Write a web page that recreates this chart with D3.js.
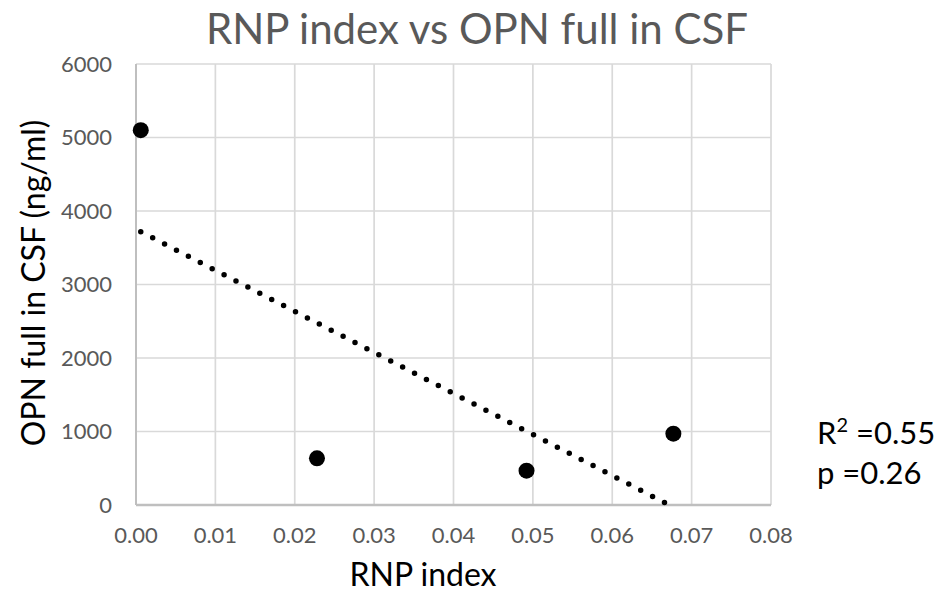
<!DOCTYPE html>
<html>
<head>
<meta charset="utf-8">
<script src="https://cdn.jsdelivr.net/npm/d3@7"></script>
<style>
  html, body { margin: 0; padding: 0; background: #fff; }
  svg { display: block; }
  text { font-family: Lato, "Open Sans", sans-serif; }
</style>
</head>
<body>
<svg id="chart" width="944" height="592"></svg>
<script>
// ---- Data ----
const rnpIndex = [0.0006, 0.0228, 0.0492, 0.0677];
const opnFull  = [5100, 635, 467, 970];
const xTicks = [0, 0.01, 0.02, 0.03, 0.04, 0.05, 0.06, 0.07, 0.08];
const yTicks = [0, 1000, 2000, 3000, 4000, 5000, 6000];
const titleText = "RNP index vs OPN full in CSF";
const xTitle = "RNP index";
const yTitle = "OPN full in CSF (ng/ml)";
const statLines = ["R", "2", " =0.55", "p =0.26"];

// ---- Layout ----
const svg = d3.select("#chart");
const pLeft = 136, pRight = 771, pTop = 64, pBottom = 505;
const x = d3.scaleLinear().domain([0, 0.08]).range([pLeft, pRight]);
const y = d3.scaleLinear().domain([0, 6000]).range([pBottom, pTop]);

// Gridlines
svg.append("g").selectAll("line").data(yTicks.slice(1)).join("line")
  .attr("x1", pLeft).attr("x2", pRight)
  .attr("y1", d => y(d)).attr("y2", d => y(d))
  .attr("stroke", "#d9d9d9").attr("stroke-width", 1.7);
svg.append("g").selectAll("line").data(xTicks.slice(1)).join("line")
  .attr("x1", d => x(d)).attr("x2", d => x(d))
  .attr("y1", pTop).attr("y2", pBottom)
  .attr("stroke", "#d9d9d9").attr("stroke-width", 1.7);

// Axis lines
svg.append("line").attr("x1", pLeft).attr("x2", pLeft).attr("y1", pTop).attr("y2", pBottom)
  .attr("stroke", "#bfbfbf").attr("stroke-width", 2);
svg.append("line").attr("x1", pLeft).attr("x2", pRight).attr("y1", pBottom).attr("y2", pBottom)
  .attr("stroke", "#bfbfbf").attr("stroke-width", 2.5);

// Tick labels
svg.append("g").selectAll("text").data(yTicks).join("text")
  .attr("x", pLeft - 24).attr("y", d => y(d)).attr("dy", "0.35em")
  .attr("text-anchor", "end").attr("font-size", 22).attr("fill", "#595959")
  .text(d => d);
svg.append("g").selectAll("text").data(xTicks).join("text")
  .attr("x", d => x(d)).attr("y", 543)
  .attr("text-anchor", "middle").attr("font-size", 22).attr("fill", "#595959")
  .text(d => d3.format(".2f")(d));

// Trendline (least squares)
const mx = d3.mean(rnpIndex), my = d3.mean(opnFull);
let sxy = 0, sxx = 0;
rnpIndex.forEach((v, i) => { sxy += (v - mx) * (opnFull[i] - my); sxx += (v - mx) ** 2; });
const slope = sxy / sxx, icpt = my - slope * mx;
const x0 = d3.min(rnpIndex);
const xEnd = -icpt / slope;
svg.append("line")
  .attr("x1", x(x0)).attr("y1", y(icpt + slope * x0))
  .attr("x2", x(xEnd)).attr("y2", y(icpt + slope * xEnd))
  .attr("stroke", "#000").attr("stroke-width", 5.5)
  .attr("stroke-linecap", "round").attr("stroke-dasharray", "0 13.4");

// Points
svg.append("g").selectAll("circle").data(rnpIndex).join("circle")
  .attr("cx", d => x(d)).attr("cy", (d, i) => y(opnFull[i]))
  .attr("r", 8).attr("fill", "#000");

// Title
svg.append("text").attr("x", 477).attr("y", 44).attr("text-anchor", "middle")
  .attr("font-size", 42).attr("fill", "#595959").text(titleText);

// Axis titles
svg.append("text").attr("x", 423).attr("y", 586).attr("text-anchor", "middle")
  .attr("font-size", 32).attr("fill", "#000").text(xTitle);
svg.append("text").attr("transform", "translate(45,283) rotate(-90)")
  .attr("text-anchor", "middle").attr("font-size", 32).attr("fill", "#000").text(yTitle);

// Stats
const st = svg.append("text").attr("x", 817).attr("y", 444).attr("font-size", 31).attr("fill", "#000");
st.append("tspan").text(statLines[0]);
st.append("tspan").attr("dy", -12).attr("font-size", 20).text(statLines[1]);
st.append("tspan").attr("dy", 12).text(statLines[2]);
svg.append("text").attr("x", 817).attr("y", 484).attr("font-size", 31).attr("fill", "#000").text(statLines[3]);
</script>
</body>
</html>
